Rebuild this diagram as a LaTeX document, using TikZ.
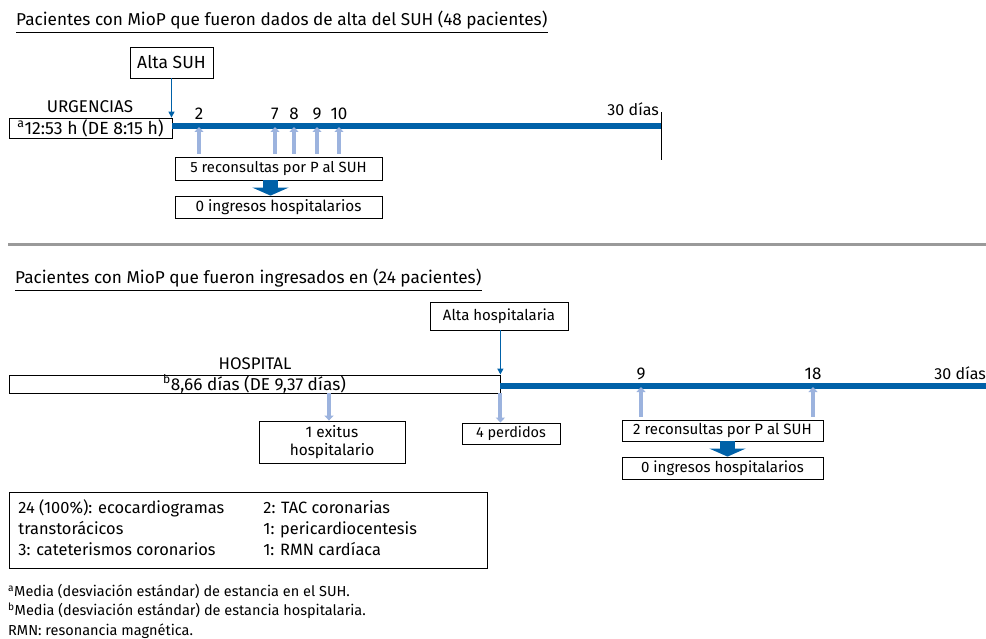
\documentclass[tikz,border=0pt]{standalone}
\usepackage{fontspec}
\setmainfont{Fira Sans}
\usetikzlibrary{arrows.meta,positioning}
\definecolor{timeblue}{HTML}{0061A8}
\definecolor{lightblue}{HTML}{9CB3DE}
\definecolor{sepgray}{HTML}{9A9A9A}

\newcommand{\fs}[1]{\fontsize{#1}{1.2\dimexpr #1pt\relax}\selectfont}

\tikzset{
  box/.style={draw,line width=0.8pt,inner sep=0pt,align=center},
  timeline/.style={timeblue,line width=6pt},
  altaarrow/.style={timeblue,line width=1.3pt,-{Triangle[width=6pt,length=6pt]}},
  uparrow/.style={lightblue,line width=4pt,-{Triangle[width=9pt,length=5pt]}},
  bigarrow/.style={timeblue,line width=15pt,-{Triangle[width=36pt,length=8pt]}},
  titletext/.style={anchor=west,inner sep=0pt,font=\fs{17.2}},
}

\begin{document}
\begin{tikzpicture}[x=1pt,y=-1pt,font=\fs{15}]
\useasboundingbox (0,0) rectangle (986,639);

% Pacientes dados de alta del SUH
\node[titletext] (title1) at (16,20) {Pacientes con MioP que fueron dados de alta del SUH (48 pacientes)};
\draw[line width=0.8pt] ([yshift=-3pt]title1.south west) -- ([yshift=-3pt]title1.south east);

\node[box,minimum width=83pt,minimum height=31pt,font=\fs{17.5}] (altasuh) at (171.5,62.5) {Alta SUH};
\node[font=\fs{17}] (urglabel) at (90,107) {URGENCIAS};
\node[box,minimum width=163pt,minimum height=20pt,font=\fs{17.6}] (urg) at (90.5,128) {\textsuperscript{a}12:53 h (DE 8:15 h)};
\coordinate (t0) at (172,126);
\coordinate (t30) at (661,126);
\draw[timeline] (t0) -- (t30);
\draw[line width=0.8pt] ([yshift=-34pt]t30) -- ([yshift=14pt]t30);
\node[anchor=east,inner sep=1pt,font=\fs{16}] (dias1) at (660,109) {30 días};
\draw[altaarrow] (altasuh.south) -- (altasuh.south |- urg.north);

\node[box,minimum width=207pt,minimum height=23pt,font=\fs{14.8}] (recon) at (278.5,168.5) {5 reconsultas por P al SUH};
\node[box,minimum width=207pt,minimum height=22pt,font=\fs{15.3}] (ingr) at (278.5,207) {0 ingresos hospitalarios};
\foreach \d/\x in {2/199,7/275,8/294,9/317,10/339}{
  \node[font=\fs{17}] (d\d) at (\x,114) {\d};
  \draw[uparrow,shorten <=3pt] (recon.north -| d\d) -- ([yshift=-1pt]t0 -| d\d);
}
\draw[bigarrow] ([xshift=-8pt]recon.south) -- ([xshift=-8pt]ingr.north);

% separador
\draw[sepgray,line width=3pt] (8,245) -- (986,245);

% Pacientes ingresados
\node[titletext] (title2) at (15,278) {Pacientes con MioP que fueron ingresados en (24 pacientes)};
\draw[line width=0.8pt] ([yshift=-3pt]title2.south west) -- ([yshift=-3pt]title2.south east);

\node[box,minimum width=138pt,minimum height=28pt] (altahosp) at (499,316) {Alta hospitalaria};
\node[font=\fs{16.8}] (hosplabel) at (255,364) {HOSPITAL};
\node[box,minimum width=491pt,minimum height=18pt,font=\fs{17.2}] (hosp) at (254.5,384) {\textsuperscript{b}8,66 días (DE 9,37 días)};
\coordinate (h0) at (500,386);
\coordinate (h30) at (986,386);
\draw[timeline] (h0) -- (h30);
\draw[altaarrow] (altahosp.south -| hosp.east) -- (hosp.north east);
\node[anchor=east,inner sep=1pt,font=\fs{16}] (dias2) at (987,373) {30 días};

\node[box,minimum width=146pt,minimum height=42pt,font=\fs{15.4}] (exitus) at (332,442) {1 exitus\\hospitalario};
\node[box,minimum width=98pt,minimum height=21pt,font=\fs{14.5}] (perd) at (511,433.5) {4 perdidos};
\coordinate (exitustop) at (329,393);
\draw[uparrow] (exitustop) -- (exitustop |- exitus.north);
\draw[uparrow] (hosp.south east) -- (perd.north -| hosp.south east);

\node[box,minimum width=201pt,minimum height=21pt] (recon2) at (722.5,430.5) {2 reconsultas por P al SUH};
\node[box,minimum width=201pt,minimum height=22pt] (ingr2) at (722.5,468) {0 ingresos hospitalarios};
\foreach \d/\x in {9/641,18/813}{
  \node[font=\fs{17}] (e\d) at (\x,374) {\d};
  \draw[uparrow,shorten <=3pt] (recon2.north -| e\d) -- ([yshift=-1pt]h0 -| e\d);
}
\draw[bigarrow] ([xshift=5pt]recon2.south) -- ([xshift=5pt]ingr2.north);

% pruebas
\node[draw,line width=0.8pt,anchor=north west,minimum width=478pt,minimum height=76pt,
  inner sep=0pt,font=\fontsize{16.4}{21}\selectfont] (pruebas) at (9,492) {%
  \begin{tabular}{@{\hspace{9pt}}p{245pt}@{}p{224pt}@{}}
  24 (100\%): ecocardiogramas & 2: TAC coronarias\\
  transtorácicos & 1: pericardiocentesis\\
  3: cateterismos coronarios & 1: RMN cardíaca
  \end{tabular}};

\node[anchor=north west,align=left,inner sep=0pt,font=\fontsize{14.5}{19.5}\selectfont] (notas) at (8,584) {%
  \textsuperscript{a}Media (desviación estándar) de estancia en el SUH.\\
  \textsuperscript{b}Media (desviación estándar) de estancia hospitalaria.\\
  RMN: resonancia magnética.};
\end{tikzpicture}
\end{document}
